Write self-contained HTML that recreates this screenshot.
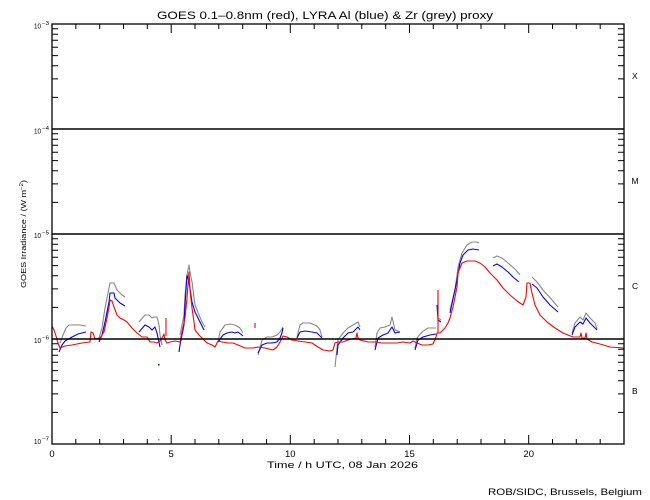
<!DOCTYPE html>
<html><head><meta charset="utf-8"><style>
html,body{margin:0;padding:0;background:#fff;}
svg{display:block;font-family:"Liberation Sans",sans-serif;}
</style></head><body>
<svg width="650" height="500" viewBox="0 0 650 500" xmlns="http://www.w3.org/2000/svg">
<rect width="650" height="500" fill="#fff"/>
<!-- title -->
<text x="157" y="19" font-size="11" textLength="336" lengthAdjust="spacingAndGlyphs" fill="#000">GOES 0.1–0.8nm (red), LYRA Al (blue) &amp; Zr (grey) proxy</text>

<!-- series -->
<g fill="none" stroke-width="1.1" stroke-linejoin="round">
<g stroke="#888">
<polyline points="60,343 63,335 66,328 69,325 75,325 80,325 86,326"/>
<polyline points="99,338 102,328 105,308 109,288 110,283 114,283 117,290 122,295 125,297"/>
<polyline points="139,322 145,315 149,315 152,318 154,317 157,317 159,325 160,335 162,345"/>
<polyline points="180,335 184,315 185,295 187,275 189,265 190,272 192,282 195,305 199,315 202,322 205,327"/>
<polyline points="218,342 220,332 225,325 230,324 235,325 240,328 243,333"/>
<polyline points="258,355 262,340 267,337 272,337 277,335 280,332 283,327"/>
<polyline points="297,337 300,325 303,323 310,323 317,326 320,330 322,337"/>
<polyline points="335,367 337,348 338,340 343,333 348,328 353,325 358,322 360,327"/>
<polyline points="375,347 377,333 380,328 385,327 390,325 392,317 395,330 400,332"/>
<polyline points="415,348 417,338 422,332 428,328 436,328"/>
<polyline points="438,292 438,318 441,320"/>
<polyline points="450,310 455,290 458,267 462,253 467,245 472,242 477,242 479,243"/>
<polyline points="493,258 497,256 502,258 508,263 515,269 520,275"/>
<polyline points="532,277 537,282 543,290 552,300 558,307"/>
<polyline points="572,333 575,323 580,317 583,320 586,313 590,318 595,323 597,329"/>
</g>
<g stroke="#0000ff">
<polyline points="59,352 62,345 65,341 72,337 78,334 86,332"/>
<polyline points="99,342 102,335 105,322 109,302 110,293 114,293 115,298 120,303 125,306"/>
<polyline points="139,332 145,325 149,327 152,330 155,327 157,333 160,347"/>
<polyline points="179,352 180,345 184,325 185,305 187,275 189,282 192,302 195,312 199,320 204,330"/>
<polyline points="218,342 223,335 227,333 232,332 235,333 238,332 243,336"/>
<polyline points="258,353 262,345 267,343 272,343 277,342 280,338 282,333 283,328"/>
<polyline points="297,338 300,332 305,331 312,332 317,333 322,338"/>
<polyline points="337,355 338,345 343,338 348,333 353,332 358,327 360,330"/>
<polyline points="375,350 378,338 383,335 388,333 392,327 395,333 400,332"/>
<polyline points="415,350 418,340 423,337 430,335 436,334"/>
<polyline points="437,305 438,320 441,322"/>
<polyline points="450,313 457,280 460,263 463,255 468,250 473,249 479,250"/>
<polyline points="493,266 497,264 502,267 508,272 513,277 519,282"/>
<polyline points="532,284 537,288 543,297 550,305 558,312"/>
<polyline points="572,335 575,327 580,322 583,324 586,318 590,323 597,330"/>
</g>
<g stroke="#ff0000">
<polyline points="52,326 54,330 56,336 58,343 60,348 65,346 72,345 82,343 89,342 90,342 91,332 93,333 95,339 100,338 104,332 107,318 109,307 110,300 112,301 114,307 117,315 120,318 124,320 127,322 132,328 137,333 142,337 147,337 150,342 154,342 157,343 160,341 162,338 164,334 165,340 167,343 170,342 175,341 180,342 183,327 185,318 187,298 189,272 190,290 192,308 194,322 195,330 199,335 204,340 207,343 212,345 215,347 218,341 222,342 228,343 233,343 238,345 245,348 253,348 258,347 265,348 273,350 277,347 280,342 283,336 287,337 292,340 298,341 305,342 312,343 318,347 323,350 330,351 333,350 335,343 338,342 343,342 348,340 356,338 357,333 358,338 360,340 368,342 375,342 382,343 388,343 397,343 403,342 410,343 413,341 417,343 422,345 428,345 433,344 436,337 437,333 440,333 445,328 448,323 450,318 453,307 457,287 458,273 462,263 467,261 475,261 480,263 485,267 490,273 497,280 503,288 510,295 517,301 523,305 526,297 527,283 530,283 532,293 535,305 540,315 547,322 555,328 563,333 573,337 580,337 581,333 582,338 585,338 586,333 587,339 592,342 600,344 610,347 624,348"/>
<polyline points="438,333 438,290"/>
<polyline points="166,318 166,336"/>
<polyline points="255,323 255,328"/>
</g>
</g>
<rect x="158" y="364" width="1.5" height="1.5" fill="#0000ff"/>
<rect x="158" y="439" width="1.5" height="1.5" fill="#888"/>

<!-- decade lines -->
<g stroke="#000" stroke-width="1.6">
<line x1="52" y1="129" x2="624" y2="129"/>
<line x1="52" y1="234" x2="624" y2="234"/>
<line x1="52" y1="339" x2="624" y2="339"/>
</g>

<!-- frame -->
<rect x="52" y="24" width="572" height="420" fill="none" stroke="#000" stroke-width="1.3"/>

<!-- y minor ticks -->
<g stroke="#000" stroke-width="1">
<path d="M52 412.4h6M52 393.9h6M52 380.8h6M52 370.6h6M52 362.3h6M52 355.3h6M52 349.2h6M52 343.8h6
M52 307.4h6M52 288.9h6M52 275.8h6M52 265.6h6M52 257.3h6M52 250.3h6M52 244.2h6M52 238.8h6
M52 202.4h6M52 183.9h6M52 170.8h6M52 160.6h6M52 152.3h6M52 145.3h6M52 139.2h6M52 133.8h6
M52 97.4h6M52 78.9h6M52 65.8h6M52 55.6h6M52 47.3h6M52 40.3h6M52 34.2h6M52 28.8h6"/>
<path d="M624 412.4h-6M624 393.9h-6M624 380.8h-6M624 370.6h-6M624 362.3h-6M624 355.3h-6M624 349.2h-6M624 343.8h-6
M624 307.4h-6M624 288.9h-6M624 275.8h-6M624 265.6h-6M624 257.3h-6M624 250.3h-6M624 244.2h-6M624 238.8h-6
M624 202.4h-6M624 183.9h-6M624 170.8h-6M624 160.6h-6M624 152.3h-6M624 145.3h-6M624 139.2h-6M624 133.8h-6
M624 97.4h-6M624 78.9h-6M624 65.8h-6M624 55.6h-6M624 47.3h-6M624 40.3h-6M624 34.2h-6M624 28.8h-6"/>
<!-- x ticks bottom -->
<path d="M52 444v-9M75.8 444v-5M99.7 444v-5M123.5 444v-5M147.3 444v-5M171.2 444v-9M195 444v-5M218.8 444v-5M242.7 444v-5M266.5 444v-5M290.3 444v-9M314.2 444v-5M338 444v-5M361.8 444v-5M385.7 444v-5M409.5 444v-9M433.3 444v-5M457.2 444v-5M481 444v-5M504.8 444v-5M528.7 444v-9M552.5 444v-5M576.3 444v-5M600.2 444v-5"/>
<path d="M52 24v9M75.8 24v5M99.7 24v5M123.5 24v5M147.3 24v5M171.2 24v9M195 24v5M218.8 24v5M242.7 24v5M266.5 24v5M290.3 24v9M314.2 24v5M338 24v5M361.8 24v5M385.7 24v5M409.5 24v9M433.3 24v5M457.2 24v5M481 24v5M504.8 24v5M528.7 24v9M552.5 24v5M576.3 24v5M600.2 24v5"/>
</g>

<!-- y tick labels -->
<g font-size="7" fill="#000">
<text x="34" y="28.5" textLength="7" lengthAdjust="spacingAndGlyphs">10</text><text x="42" y="25" font-size="5" textLength="7" lengthAdjust="spacingAndGlyphs">−3</text>
<text x="34" y="133.5" textLength="7" lengthAdjust="spacingAndGlyphs">10</text><text x="42" y="130" font-size="5" textLength="7" lengthAdjust="spacingAndGlyphs">−4</text>
<text x="34" y="238" textLength="7" lengthAdjust="spacingAndGlyphs">10</text><text x="42" y="234.5" font-size="5" textLength="7" lengthAdjust="spacingAndGlyphs">−5</text>
<text x="34" y="343" textLength="7" lengthAdjust="spacingAndGlyphs">10</text><text x="42" y="339.5" font-size="5" textLength="7" lengthAdjust="spacingAndGlyphs">−6</text>
<text x="34" y="444" textLength="7" lengthAdjust="spacingAndGlyphs">10</text><text x="42" y="440.5" font-size="5" textLength="7" lengthAdjust="spacingAndGlyphs">−7</text>
</g>

<!-- y axis label -->
<text transform="translate(26,234) rotate(-90)" text-anchor="middle" font-size="7.5" fill="#000" textLength="108" lengthAdjust="spacingAndGlyphs">GOES Irradiance / (W m<tspan font-size="5" dy="-3">−2</tspan><tspan dy="3">)</tspan></text>

<!-- x tick labels -->
<g font-size="9.5" fill="#000" text-anchor="middle">
<text x="52" y="457">0</text>
<text x="171.2" y="457">5</text>
<text x="290.3" y="457">10</text>
<text x="409.5" y="457">15</text>
<text x="528.7" y="457">20</text>
</g>
<text x="267" y="468" font-size="9.5" textLength="151" lengthAdjust="spacingAndGlyphs" fill="#000">Time / h UTC, 08 Jan 2026</text>
<text x="488" y="495" font-size="9.5" textLength="154" lengthAdjust="spacingAndGlyphs" fill="#000">ROB/SIDC, Brussels, Belgium</text>

<!-- class letters -->
<g font-size="8.5" fill="#000">
<text x="632" y="79">X</text>
<text x="631.5" y="184">M</text>
<text x="632" y="289">C</text>
<text x="632" y="394">B</text>
</g>
</svg>
</body></html>
